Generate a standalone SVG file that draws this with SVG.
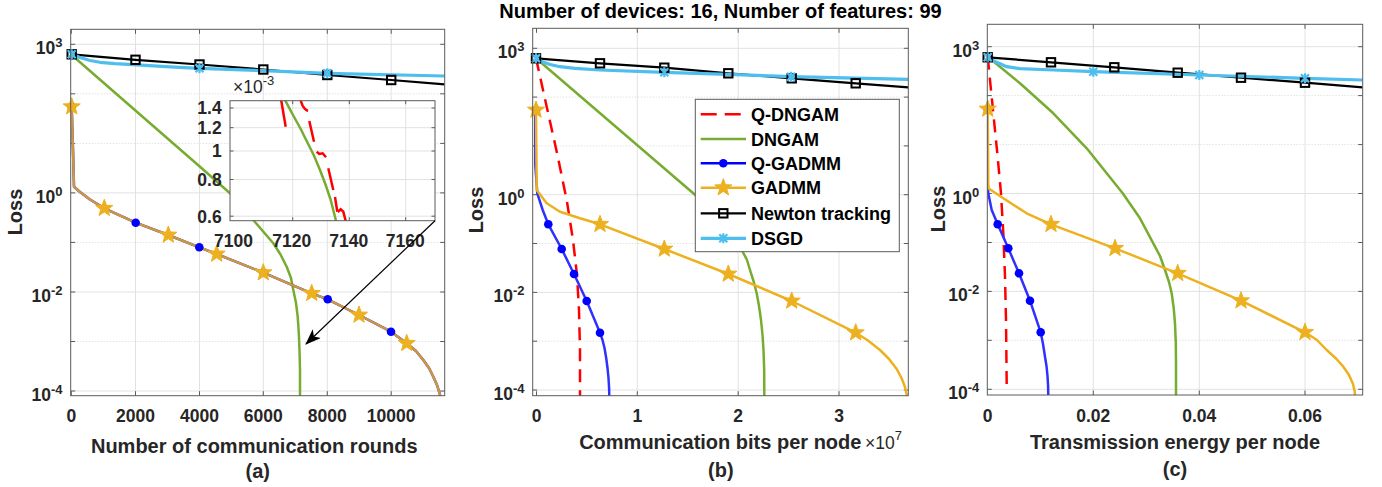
<svg xmlns="http://www.w3.org/2000/svg" width="1382" height="487" viewBox="0 0 1382 487">
<style>
.bg{fill:#fff}
.ax{fill:none;stroke:#5a5a5a;stroke-width:1}
.grid{fill:none;stroke:#e2e2e2;stroke-width:1}
.gridm{fill:none;stroke:#e2e2e2;stroke-width:1;stroke-dasharray:1.5 1.5}
.tick{fill:none;stroke:#5a5a5a;stroke-width:1}
.t{font-family:"Liberation Sans",Arial,sans-serif;font-weight:bold;fill:#262626}
.tl{font-size:17.5px}
.lab{font-size:20px}
.leg{font-size:18px;fill:#000}
.reg{font-weight:normal}
.red{fill:none;stroke:#FF0000;stroke-width:2.5;stroke-dasharray:13 8}
.reds{fill:none;stroke:#FF0000;stroke-width:2.5}
.green{fill:none;stroke:#77AC30;stroke-width:2.5;stroke-linejoin:round}
.blue{fill:none;stroke:#0000FF;stroke-width:2.5;stroke-linejoin:round}
.blue2{fill:none;stroke:#3030FF;stroke-width:2.5;stroke-linejoin:round}
.orange{fill:none;stroke:#EDB120;stroke-width:2.5;stroke-linejoin:round}
.orangeo{fill:none;stroke:#EDB120;stroke-width:2.5;stroke-linejoin:round;stroke-opacity:0.86}
.black{fill:none;stroke:#000;stroke-width:2.2;stroke-linejoin:round}
.dsgd{fill:none;stroke:#4DBEEE;stroke-width:3.2;stroke-linejoin:round}
.arrow{fill:none;stroke:#000;stroke-width:1.2}
</style>
<defs>
<polygon id="star" points="0,-9 2.17,-2.99 8.56,-2.78 3.52,1.14 5.29,7.28 0,3.7 -5.29,7.28 -3.52,1.14 -8.56,-2.78 -2.17,-2.99" fill="#EDB120" stroke="#EDB120" stroke-width="1" stroke-linejoin="round"/>
<circle id="dot" r="4.3" fill="#0000FF"/>
<rect id="sq" x="-4.2" y="-4.2" width="8.4" height="8.4" fill="none" stroke="#000" stroke-width="2"/>
<path id="ast" d="M-4,-4L4,4M-4,4L4,-4M0,-5V5" stroke="#4DBEEE" stroke-width="2.2" fill="none"/>
<clipPath id="clipA"><rect x="70.7" y="29.3" width="374" height="366.4"/></clipPath>
<clipPath id="clipB"><rect x="532.7" y="28.3" width="375.6" height="367.4"/></clipPath>
<clipPath id="clipC"><rect x="987.3" y="24.3" width="375.4" height="370.7"/></clipPath>
<clipPath id="clipI"><rect x="230" y="100.7" width="205" height="120"/></clipPath>
<marker id="ahead" viewBox="0 0 16 12" refX="15" refY="6" markerWidth="16" markerHeight="12" markerUnits="userSpaceOnUse" orient="auto">
<path d="M0,0 L16,6 L0,12 L4,6 z" fill="#000"/>
</marker>
</defs>
<rect class="bg" x="0" y="0" width="1382" height="487"/>

<text id="title" class="t" x="720.5" y="17.5" text-anchor="middle" font-size="20" style="fill:#000">Number of devices: 16, Number of features: 99</text>

<!-- Panel A -->
<g id="panel-a">
<rect class="bg" x="70.7" y="29.3" width="374" height="366.4"/>
<path class="grid" d="M70.7,44.3H444.7M70.7,192.9H444.7M70.7,292H444.7M70.7,391H444.7M135.5,29.3V395.7M199.5,29.3V395.7M263.3,29.3V395.7M327.3,29.3V395.7M391.2,29.3V395.7"/>
<path class="gridm" d="M70.7,93.8H444.7M70.7,143.4H444.7M70.7,242.4H444.7M70.7,341.5H444.7"/>
<path class="tick" d="M70.7,44.3h4.5M70.7,93.8h4.5M70.7,143.4h4.5M70.7,192.9h4.5M70.7,242.4h4.5M70.7,292h4.5M70.7,341.5h4.5M70.7,391h4.5M444.7,44.3h-4.5M444.7,93.8h-4.5M444.7,143.4h-4.5M444.7,192.9h-4.5M444.7,242.4h-4.5M444.7,292h-4.5M444.7,341.5h-4.5M444.7,391h-4.5M71.3,395.7v-4.5M135.5,395.7v-4.5M199.5,395.7v-4.5M263.3,395.7v-4.5M327.3,395.7v-4.5M391.2,395.7v-4.5M71.3,29.3v4.5M135.5,29.3v4.5M199.5,29.3v4.5M263.3,29.3v4.5M327.3,29.3v4.5M391.2,29.3v4.5"/>
<g clip-path="url(#clipA)">
<polyline class="green" points="71.7,55 200,166.7 230,193.3 253.3,220 273.3,243.3 280.5,254.5 286.7,266.7 291,278 293.3,290 296,303 297.7,316.7 298.8,333 299.5,350 300,370 300,397"/>
<polyline class="blue" points="71.7,106.7 73,150 74,186.7 80,192 90,199.5 104.3,208.3 135.7,222.7 168.3,235 199.3,247.3 216.7,254 263.3,272.7 311.7,293.3 327.7,299.3 359,315 391,331.7 406.7,343.3 416,351 423.3,360 429,368 433.3,376.7 437,385 439.5,393 440.5,397"/>
<polyline class="orangeo" points="71.7,106.7 73,150 74,186.7 80,192 90,199.5 104.3,208.3 135.7,222.7 168.3,235 199.3,247.3 216.7,254 263.3,272.7 311.7,293.3 327.7,299.3 359,315 391,331.7 406.7,343.3 416,351 423.3,360 429,368 433.3,376.7 437,385 439.5,393 440.5,397"/>
<polyline class="black" points="71.7,54.3 135.5,59.8 199.5,64.5 263.3,69.5 327.3,75 391.2,80 444.7,84.3"/>
<polyline class="dsgd" points="71.7,54.3 80,57.5 90,60.5 100,62.3 115,63.7 133,64.6 170,66.8 199.5,68.3 263.3,70.7 327.3,73.3 444.7,76"/>
</g>
<use href="#dot" x="71.7" y="106.7"/><use href="#dot" x="135.7" y="222.7"/><use href="#dot" x="199.3" y="247.3"/><use href="#dot" x="263.3" y="272.7"/><use href="#dot" x="327.7" y="299.3"/><use href="#dot" x="391" y="331.7"/>
<use href="#star" x="71.7" y="106.7"/><use href="#star" x="104.3" y="208.3"/><use href="#star" x="168.3" y="235"/><use href="#star" x="216.7" y="254"/><use href="#star" x="263.3" y="272.7"/><use href="#star" x="311.7" y="293.3"/><use href="#star" x="359" y="315"/><use href="#star" x="406.7" y="343.3"/>
<use href="#sq" x="71.7" y="54.3"/><use href="#sq" x="135.5" y="59.8"/><use href="#sq" x="199.5" y="64.5"/><use href="#sq" x="263.3" y="69.5"/><use href="#sq" x="327.3" y="75"/><use href="#sq" x="391.2" y="80"/>
<use href="#ast" x="71.7" y="54.3"/><use href="#ast" x="199.5" y="68.3"/><use href="#ast" x="327.3" y="73.3"/>
<rect class="ax" x="70.7" y="29.3" width="374" height="366.4"/>
<g class="t tl">
<text x="62.5" y="54.3" text-anchor="end">10<tspan dy="-7" font-size="13">3</tspan></text>
<text x="62.5" y="202.9" text-anchor="end">10<tspan dy="-7" font-size="13">0</tspan></text>
<text x="62.5" y="302" text-anchor="end">10<tspan dy="-7" font-size="13">-2</tspan></text>
<text x="62.5" y="401" text-anchor="end">10<tspan dy="-7" font-size="13">-4</tspan></text>
<text x="71.3" y="422.3" text-anchor="middle">0</text>
<text x="135.5" y="422.3" text-anchor="middle">2000</text>
<text x="199.5" y="422.3" text-anchor="middle">4000</text>
<text x="263.3" y="422.3" text-anchor="middle">6000</text>
<text x="327.3" y="422.3" text-anchor="middle">8000</text>
<text x="391.2" y="422.3" text-anchor="middle">10000</text>
</g>
<text class="t lab" x="254.3" y="452.7" text-anchor="middle">Number of communication rounds</text>
<text class="t lab" x="257.8" y="477.7" text-anchor="middle">(a)</text>
<text class="t lab" transform="translate(21.7,212) rotate(-90)" text-anchor="middle">Loss</text>
</g>

<!-- Inset in panel A -->
<g id="inset-a">
<rect class="bg" x="230" y="100.7" width="205" height="120"/>
<path class="grid" d="M230,108H435M230,127.7H435M230,151H435M230,179.5H435M230,216.2H435M292.7,100.7V220.7M349.3,100.7V220.7M405.7,100.7V220.7"/>
<path class="tick" d="M230,108h3.5M230,127.7h3.5M230,151h3.5M230,179.5h3.5M230,216.2h3.5M435,108h-3.5M435,127.7h-3.5M435,151h-3.5M435,179.5h-3.5M435,216.2h-3.5M292.7,220.7v-3.5M349.3,220.7v-3.5M405.7,220.7v-3.5M292.7,100.7v3.5M349.3,100.7v3.5M405.7,100.7v3.5"/>
<g clip-path="url(#clipI)">
<polyline class="green" points="283.5,95 285.3,100.7 293,115 300.7,129 307.3,142.3 313.7,155 320,170 325.7,185 330.7,200 336,220.7 337,226"/>
<path class="reds" d="M280.3,95 L285.7,126.7 M299,96 L302.5,105.5 Q305,110 308,111 M309.3,121 L314,141.7 M316.7,151.7 L319.3,154 L322.7,153.3 L326,157.3 M328.3,168.3 L333.3,190 M335,197 L337.3,211.7 M337.8,212 L340.7,209.3 L343.3,211.7 L346.5,224"/>
</g>
<rect class="ax" x="230" y="100.7" width="205" height="120"/>
<g class="t tl">
<text x="221.7" y="114.3" text-anchor="end">1.4</text>
<text x="221.7" y="134" text-anchor="end">1.2</text>
<text x="221.7" y="157.3" text-anchor="end">1</text>
<text x="221.7" y="185.8" text-anchor="end">0.8</text>
<text x="221.7" y="222.5" text-anchor="end">0.6</text>
<text x="233.5" y="246.7" text-anchor="middle">7100</text>
<text x="291.7" y="246.7" text-anchor="middle">7120</text>
<text x="348.8" y="246.7" text-anchor="middle">7140</text>
<text x="405.3" y="246.7" text-anchor="middle">7160</text>
<text class="reg" x="233" y="93.3">×10<tspan dy="-8" font-size="13">-3</tspan></text>
</g>
</g>

<g id="connectors">
<line class="arrow" x1="435" y1="220.7" x2="306" y2="344" marker-end="url(#ahead)"/>
</g>

<!-- Panel B -->
<g id="panel-b">
<rect class="bg" x="532.7" y="28.3" width="375.6" height="367.4"/>
<path class="grid" d="M532.7,48.3H908.3M532.7,194.7H908.3M532.7,292.4H908.3M532.7,390H908.3M637.3,28.3V395.7M738.2,28.3V395.7M839,28.3V395.7"/>
<path class="gridm" d="M532.7,97.1H908.3M532.7,145.9H908.3M532.7,243.5H908.3M532.7,341.2H908.3"/>
<path class="tick" d="M532.7,48.3h4.5M532.7,97.1h4.5M532.7,145.9h4.5M532.7,194.7h4.5M532.7,243.5h4.5M532.7,292.4h4.5M532.7,341.2h4.5M532.7,390h4.5M908.3,48.3h-4.5M908.3,97.1h-4.5M908.3,145.9h-4.5M908.3,194.7h-4.5M908.3,243.5h-4.5M908.3,292.4h-4.5M908.3,341.2h-4.5M908.3,390h-4.5M536.5,395.7v-4.5M637.3,395.7v-4.5M738.2,395.7v-4.5M839,395.7v-4.5M536.5,28.3v4.5M637.3,28.3v4.5M738.2,28.3v4.5M839,28.3v4.5"/>
<g clip-path="url(#clipB)">
<polyline class="red" points="536,58.3 546.7,106.7 557,153 566.7,200 573,240 577,275 579,310 580,350 580,397"/>
<polyline class="green" points="536,58.3 695.3,195 720,222 742.7,251.7 747,260 750,270 753.5,281 756.7,293.3 759,306 761,320 762.5,335 763.5,350 764.2,370 764.3,397"/>
<polyline class="blue2" points="535.3,110 535.3,165 537.3,193.3 542.7,210 548.3,224.3 561.7,249 574,274 586.7,301 600,332.7 602.5,340 604.5,348 606.2,358 607.5,368 608.5,378 609.1,388 609.3,397"/>
<polyline class="orange" points="536,110 536.7,190 546.7,203.3 560,211.7 580,218.3 600,224.3 664.3,249 728.3,274 791.7,301 855.7,332.7 868,340.5 880,350 889,359 896.7,369 901.5,378 905,387 906.5,394 907,397"/>
<polyline class="black" points="536,58.3 600,63.3 664.3,67.7 728.3,73.3 791.7,78.3 855.7,83.3 908.3,87.3"/>
<polyline class="dsgd" points="536,58.3 543,62 550,64.5 560,66.7 575,68.3 600,70 664.3,72.3 728.3,74.3 791,76.7 908.3,79.3"/>
</g>
<use href="#dot" x="536" y="110"/><use href="#dot" x="548.3" y="224.3"/><use href="#dot" x="561.7" y="249"/><use href="#dot" x="574" y="274"/><use href="#dot" x="586.7" y="301"/><use href="#dot" x="600" y="332.7"/>
<use href="#star" x="536" y="110"/><use href="#star" x="600" y="224.3"/><use href="#star" x="664.3" y="249"/><use href="#star" x="728.3" y="274"/><use href="#star" x="791.7" y="301"/><use href="#star" x="855.7" y="332.7"/>
<use href="#sq" x="536" y="58.3"/><use href="#sq" x="600" y="63.3"/><use href="#sq" x="664.3" y="67.7"/><use href="#sq" x="728.3" y="73.3"/><use href="#sq" x="791.7" y="78.3"/><use href="#sq" x="855.7" y="83.3"/>
<use href="#ast" x="536" y="58.3"/><use href="#ast" x="664.3" y="72.3"/><use href="#ast" x="791" y="76.7"/>
<rect class="ax" x="532.7" y="28.3" width="375.6" height="367.4"/>
<g class="t tl">
<text x="524.5" y="58.3" text-anchor="end">10<tspan dy="-7" font-size="13">3</tspan></text>
<text x="524.5" y="204.7" text-anchor="end">10<tspan dy="-7" font-size="13">0</tspan></text>
<text x="524.5" y="302.4" text-anchor="end">10<tspan dy="-7" font-size="13">-2</tspan></text>
<text x="524.5" y="400" text-anchor="end">10<tspan dy="-7" font-size="13">-4</tspan></text>
<text x="536.5" y="422" text-anchor="middle">0</text>
<text x="637.3" y="422" text-anchor="middle">1</text>
<text x="738.2" y="422" text-anchor="middle">2</text>
<text x="839" y="422" text-anchor="middle">3</text>
<text class="reg" x="865" y="449.3">×10<tspan dy="-9" font-size="13">7</tspan></text>
</g>
<text class="t lab" x="720.3" y="449.3" text-anchor="middle">Communication bits per node</text>
<text class="t lab" x="720.8" y="476.7" text-anchor="middle">(b)</text>
<text class="t lab" transform="translate(483.3,210) rotate(-90)" text-anchor="middle">Loss</text>
</g>

<g id="legend">
<rect x="695.3" y="99.3" width="204" height="152.4" fill="#fff" stroke="#5a5a5a" stroke-width="1"/>
<line class="red" x1="700.7" y1="114.3" x2="746" y2="114.3" style="stroke-dasharray:16 8"/>
<line class="green" x1="700.7" y1="139" x2="746" y2="139"/>
<line class="blue" x1="700.7" y1="163.3" x2="746" y2="163.3"/><use href="#dot" x="723.3" y="163.3"/>
<line class="orange" x1="700.7" y1="187.7" x2="746" y2="187.7"/><use href="#star" x="723.3" y="187.7"/>
<line class="black" x1="700.7" y1="213.3" x2="746" y2="213.3"/><use href="#sq" x="723.3" y="213.3"/>
<line class="dsgd" x1="700.7" y1="238.3" x2="746" y2="238.3"/><use href="#ast" x="723.3" y="238.3"/>
<g class="t leg">
<text x="751" y="120.8">Q-DNGAM</text>
<text x="751" y="145.5">DNGAM</text>
<text x="751" y="169.8">Q-GADMM</text>
<text x="751" y="194.2">GADMM</text>
<text x="751" y="219.8">Newton tracking</text>
<text x="751" y="244.8">DSGD</text>
</g>
</g>

<!-- Panel C -->
<g id="panel-c">
<rect class="bg" x="987.3" y="24.3" width="375.4" height="370.7"/>
<path class="grid" d="M987.3,46.7H1362.7M987.3,193.5H1362.7M987.3,291.4H1362.7M987.3,389.3H1362.7M1093.3,24.3V395M1199.3,24.3V395M1305,24.3V395"/>
<path class="gridm" d="M987.3,95.6H1362.7M987.3,144.6H1362.7M987.3,242.5H1362.7M987.3,340.3H1362.7"/>
<path class="tick" d="M987.3,46.7h4.5M987.3,95.6h4.5M987.3,144.6h4.5M987.3,193.5h4.5M987.3,242.5h4.5M987.3,291.4h4.5M987.3,340.3h4.5M987.3,389.3h4.5M1362.7,46.7h-4.5M1362.7,95.6h-4.5M1362.7,144.6h-4.5M1362.7,193.5h-4.5M1362.7,242.5h-4.5M1362.7,291.4h-4.5M1362.7,340.3h-4.5M1362.7,389.3h-4.5M1093.3,395v-4.5M1199.3,395v-4.5M1305,395v-4.5M1093.3,24.3v4.5M1199.3,24.3v4.5M1305,24.3v4.5"/>
<g clip-path="url(#clipC)">
<polyline class="red" points="987.7,56.7 990,80 993.3,113.3 997.3,153.3 1001,193.3 1003.3,233.3 1005,276.7 1006,320 1006.7,385"/>
<polyline class="green" points="987.7,56.7 1020,83.3 1053.3,113.3 1086.7,148.3 1122.7,193.3 1140,218.3 1153.3,243.3 1160,256 1165,270 1169,282 1171.7,293.3 1173.7,308 1175,323.3 1175.8,343 1176,363 1176,397"/>
<polyline class="blue2" points="987,109 987,170 988.3,193.3 991.7,210 997.7,224.3 1008.3,248.3 1019,273.3 1030,300.7 1040.7,332.3 1043,344 1045,356.7 1046.5,366 1047.5,376 1048.1,386 1048.3,397"/>
<polyline class="orange" points="987.7,109 988.3,188.3 1003.3,198.3 1026.7,213.3 1051,224.3 1115,248.3 1177.7,273.3 1241,300.7 1305,332.3 1317,340 1326.7,350 1336,358.5 1343.3,366.7 1349,375 1353,384 1354.8,392 1355,397"/>
<polyline class="black" points="987.7,57.3 1051,62.3 1114.3,67.3 1177.7,72.7 1241,77.7 1305,82.7 1362.7,87.3"/>
<polyline class="dsgd" points="987.7,57.3 995,61.5 1006.7,66.7 1020,68.7 1053.3,70 1093.3,71.7 1199.3,75 1305,78.3 1362.7,80"/>
</g>
<use href="#dot" x="987.7" y="109"/><use href="#dot" x="997.7" y="224.3"/><use href="#dot" x="1008.3" y="248.3"/><use href="#dot" x="1019" y="273.3"/><use href="#dot" x="1030" y="300.7"/><use href="#dot" x="1040.7" y="332.3"/>
<use href="#star" x="987.7" y="109"/><use href="#star" x="1051" y="224.3"/><use href="#star" x="1115" y="248.3"/><use href="#star" x="1177.7" y="273.3"/><use href="#star" x="1241" y="300.7"/><use href="#star" x="1305" y="332.3"/>
<use href="#sq" x="987.7" y="57.3"/><use href="#sq" x="1051" y="62.3"/><use href="#sq" x="1114.3" y="67.3"/><use href="#sq" x="1177.7" y="72.7"/><use href="#sq" x="1241" y="77.7"/><use href="#sq" x="1305" y="82.7"/>
<use href="#ast" x="987.7" y="57.3"/><use href="#ast" x="1093.3" y="71.7"/><use href="#ast" x="1199.3" y="75"/><use href="#ast" x="1305" y="78.3"/>
<rect class="ax" x="987.3" y="24.3" width="375.4" height="370.7"/>
<g class="t tl">
<text x="979.2" y="56.7" text-anchor="end">10<tspan dy="-7" font-size="13">3</tspan></text>
<text x="979.2" y="203.5" text-anchor="end">10<tspan dy="-7" font-size="13">0</tspan></text>
<text x="979.2" y="301.4" text-anchor="end">10<tspan dy="-7" font-size="13">-2</tspan></text>
<text x="979.2" y="399.3" text-anchor="end">10<tspan dy="-7" font-size="13">-4</tspan></text>
<text x="987.7" y="421.7" text-anchor="middle">0</text>
<text x="1093.3" y="421.7" text-anchor="middle">0.02</text>
<text x="1199.3" y="421.7" text-anchor="middle">0.04</text>
<text x="1305" y="421.7" text-anchor="middle">0.06</text>
</g>
<text class="t lab" x="1175" y="449" text-anchor="middle">Transmission energy per node</text>
<text class="t lab" x="1175" y="475.7" text-anchor="middle">(c)</text>
<text class="t lab" transform="translate(945,209) rotate(-90)" text-anchor="middle">Loss</text>
</g>
</svg>
